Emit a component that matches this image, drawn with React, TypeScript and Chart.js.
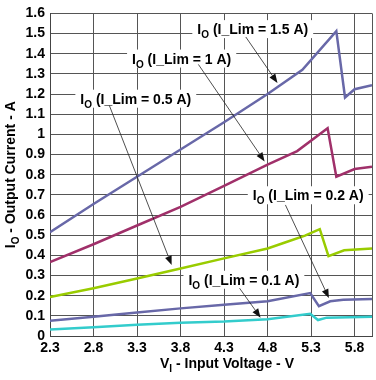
import React, { useEffect, useRef } from 'react';
import { Chart, registerables } from 'chart.js';

Chart.register(...registerables);

// ---------- data ----------
const X_TICKS = [2.3, 2.8, 3.3, 3.8, 4.3, 4.8, 5.3, 5.8, 6.0];
const X_MIN = 2.3;
const X_MAX = 6.0;
const Y_MIN = 0;
const Y_MAX = 1.6;
const Y_STEP = 0.1;

const S15_X = [2.3, 2.8, 3.3, 3.8, 4.3, 4.8, 5.2, 5.59, 5.69, 5.8, 6.0];
const S15_Y = [0.515, 0.655, 0.79, 0.925, 1.06, 1.2, 1.32, 1.512, 1.183, 1.224, 1.244];

const S10_X = [2.3, 2.8, 3.3, 3.8, 4.3, 4.8, 5.14, 5.49, 5.59, 5.8, 6.0];
const S10_Y = [0.367, 0.455, 0.548, 0.64, 0.745, 0.85, 0.917, 1.03, 0.79, 0.828, 0.84];

const S05_X = [2.3, 2.8, 3.3, 3.8, 4.3, 4.8, 5.0, 5.23, 5.4, 5.5, 5.68, 6.0];
const S05_Y = [0.193, 0.237, 0.285, 0.335, 0.385, 0.434, 0.464, 0.498, 0.53, 0.396, 0.425, 0.434];

const S02_X = [2.3, 2.8, 3.3, 3.8, 4.3, 4.8, 5.29, 5.39, 5.52, 5.67, 6.0];
const S02_Y = [0.075, 0.096, 0.116, 0.137, 0.155, 0.172, 0.213, 0.148, 0.172, 0.18, 0.183];

const S01_X = [2.3, 2.8, 3.3, 3.8, 4.3, 4.8, 5.29, 5.38, 5.48, 6.0];
const S01_Y = [0.032, 0.043, 0.056, 0.066, 0.072, 0.083, 0.11, 0.079, 0.091, 0.095];

const SERIES_NAMES = ['I_Lim = 1.5 A', 'I_Lim = 1 A', 'I_Lim = 0.5 A', 'I_Lim = 0.2 A', 'I_Lim = 0.1 A'];

// annotation labels (data coordinates)
const LABEL_MAIN = 'I';
const LABEL_SUB = 'O';
const LABEL_REST = [' (I_Lim = 1.5 A)', ' (I_Lim = 1 A)', ' (I_Lim = 0.5 A)', ' (I_Lim = 0.2 A)', ' (I_Lim = 0.1 A)'];
const LABEL_X = [3.993, 3.243, 2.649, 4.63, 3.891];
const LABEL_Y = [1.522, 1.376, 1.177, 0.698, 0.279];
const ARROW_FROM_X = [4.55, 4.005, 2.982, 5.005, 4.478];
const ARROW_FROM_Y = [1.483, 1.347, 1.143, 0.65, 0.237];
const ARROW_TO_X = [4.914, 4.766, 3.698, 5.505, 4.72];
const ARROW_TO_Y = [1.255, 0.866, 0.352, 0.188, 0.091];

const X_TITLE = ['V', 'I', ' - Input Voltage - V'];
const Y_TITLE = ['I', 'O', ' - Output Current - A'];

// ---------- styles ----------
const COLORS = ['#6868A8', '#A0306A', '#99CC00', '#6868A8', '#33CCCC'];
const FONT = '"Liberation Sans", Arial, sans-serif';

function drawSubText(ctx: CanvasRenderingContext2D, x: number, cy: number, parts: string[], size: number) {
  const [main, sub, rest] = parts;
  ctx.textBaseline = 'alphabetic';
  ctx.textAlign = 'left';
  const base = cy + size * 0.36;
  ctx.font = `bold ${size}px ${FONT}`;
  ctx.fillText(main, x, base);
  let w = ctx.measureText(main).width;
  ctx.font = `bold ${Math.round(size * 0.72)}px ${FONT}`;
  ctx.fillText(sub, x + w, base + size * 0.28);
  w += ctx.measureText(sub).width;
  ctx.font = `bold ${size}px ${FONT}`;
  ctx.fillText(rest, x + w, base);
  w += ctx.measureText(rest).width;
  return w;
}

function measureSubText(ctx: CanvasRenderingContext2D, parts: string[], size: number) {
  const [main, sub, rest] = parts;
  ctx.font = `bold ${size}px ${FONT}`;
  let w = ctx.measureText(main).width + ctx.measureText(rest).width;
  ctx.font = `bold ${Math.round(size * 0.72)}px ${FONT}`;
  w += ctx.measureText(sub).width;
  return w;
}

const annotationPlugin = {
  id: 'annotations',
  afterDatasetsDraw(chart: any) {
    const ctx: CanvasRenderingContext2D = chart.ctx;
    const xs = chart.scales.x;
    const ys = chart.scales.y;
    const size = 14;
    ctx.save();
    // white boxes
    for (let i = 0; i < LABEL_REST.length; i++) {
      const parts = [LABEL_MAIN, LABEL_SUB, LABEL_REST[i]];
      const w = measureSubText(ctx, parts, size);
      const lx = xs.getPixelForValue(LABEL_X[i]);
      const ly = ys.getPixelForValue(LABEL_Y[i]);
      ctx.fillStyle = '#ffffff';
      ctx.fillRect(lx - 5, ly - 9, w + 10, 18);
    }
    // arrows
    for (let i = 0; i < LABEL_REST.length; i++) {
      const x0 = xs.getPixelForValue(ARROW_FROM_X[i]);
      const y0 = ys.getPixelForValue(ARROW_FROM_Y[i]);
      const x1 = xs.getPixelForValue(ARROW_TO_X[i]);
      const y1 = ys.getPixelForValue(ARROW_TO_Y[i]);
      const ang = Math.atan2(y1 - y0, x1 - x0);
      const len = 9;
      const hw = 3.5;
      const bx = x1 - len * Math.cos(ang);
      const by = y1 - len * Math.sin(ang);
      ctx.strokeStyle = '#222';
      ctx.lineWidth = 0.8;
      ctx.beginPath();
      ctx.moveTo(x0, y0);
      ctx.lineTo(bx, by);
      ctx.stroke();
      ctx.fillStyle = '#111';
      ctx.beginPath();
      ctx.moveTo(x1, y1);
      ctx.lineTo(bx + hw * Math.sin(ang), by - hw * Math.cos(ang));
      ctx.lineTo(bx - hw * Math.sin(ang), by + hw * Math.cos(ang));
      ctx.closePath();
      ctx.fill();
    }
    // text
    ctx.fillStyle = '#000';
    for (let i = 0; i < LABEL_REST.length; i++) {
      const lx = xs.getPixelForValue(LABEL_X[i]);
      const ly = ys.getPixelForValue(LABEL_Y[i]);
      drawSubText(ctx, lx, ly, [LABEL_MAIN, LABEL_SUB, LABEL_REST[i]], size);
    }
    ctx.restore();
  },
  afterDraw(chart: any) {
    const ctx: CanvasRenderingContext2D = chart.ctx;
    const size = 14;
    ctx.save();
    ctx.fillStyle = '#000';
    // x title
    const wx = measureSubText(ctx, X_TITLE, size);
    drawSubText(ctx, 227 - wx / 2, 363, X_TITLE, size);
    // y title
    const wy = measureSubText(ctx, Y_TITLE, size);
    const area = chart.chartArea;
    ctx.translate(10, (area.top + area.bottom) / 2);
    ctx.rotate(-Math.PI / 2);
    drawSubText(ctx, -wy / 2, 0, Y_TITLE, size);
    ctx.restore();
  },
};

function makeData(xs: number[], ys: number[]) {
  return xs.map((x, i) => ({ x, y: ys[i] }));
}

export default function App() {
  const ref = useRef<HTMLCanvasElement>(null);
  useEffect(() => {
    if (!ref.current) return;
    const seriesX = [S15_X, S10_X, S05_X, S02_X, S01_X];
    const seriesY = [S15_Y, S10_Y, S05_Y, S02_Y, S01_Y];
    const chart = new Chart(ref.current, {
      type: 'line',
      data: {
        datasets: SERIES_NAMES.map((name, i) => ({
          label: name,
          data: makeData(seriesX[i], seriesY[i]),
          borderColor: COLORS[i],
          backgroundColor: COLORS[i],
          borderWidth: 2.5,
          pointRadius: 0,
          tension: 0,
          fill: false,
        })),
      },
      options: {
        responsive: false,
        animation: false,
        events: [],
        layout: { padding: { top: 5, right: 1, left: 0, bottom: 0 } },
        plugins: { legend: { display: false }, tooltip: { enabled: false }, title: { display: false } },
        scales: {
          x: {
            type: 'linear',
            min: X_MIN,
            max: X_MAX,
            afterBuildTicks: (scale: any) => {
              scale.ticks = X_TICKS.map((v) => ({ value: v }));
            },
            afterFit: (scale: any) => {
              scale.height = 44;
            },
            ticks: {
              autoSkip: false,
              maxRotation: 0,
              padding: 4,
              color: '#000',
              font: { family: FONT, size: 14, weight: 'bold' },
              callback: (v: any) => (Math.abs(Number(v) - X_MAX) < 1e-6 ? '' : Number(v).toFixed(1)),
            },
            grid: { color: '#555', lineWidth: 1, drawTicks: false },
            border: { color: '#444', width: 1 },
          },
          y: {
            type: 'linear',
            min: Y_MIN,
            max: Y_MAX,
            afterFit: (scale: any) => {
              scale.width = 50;
            },
            ticks: {
              stepSize: Y_STEP,
              autoSkip: false,
              padding: 5,
              color: '#000',
              font: { family: FONT, size: 14, weight: 'bold' },
              callback: (v: any) => String(Number(Number(v).toFixed(1))),
            },
            grid: { color: '#555', lineWidth: 1, drawTicks: false },
            border: { color: '#444', width: 1 },
          },
        },
      },
      plugins: [annotationPlugin],
    });
    return () => chart.destroy();
  }, []);
  return (
    <div style={{ position: 'absolute', left: 0, top: 0, width: 376, height: 380, background: '#fff' }}>
      <canvas ref={ref} width={376} height={380} style={{ display: 'block' }} />
    </div>
  );
}
